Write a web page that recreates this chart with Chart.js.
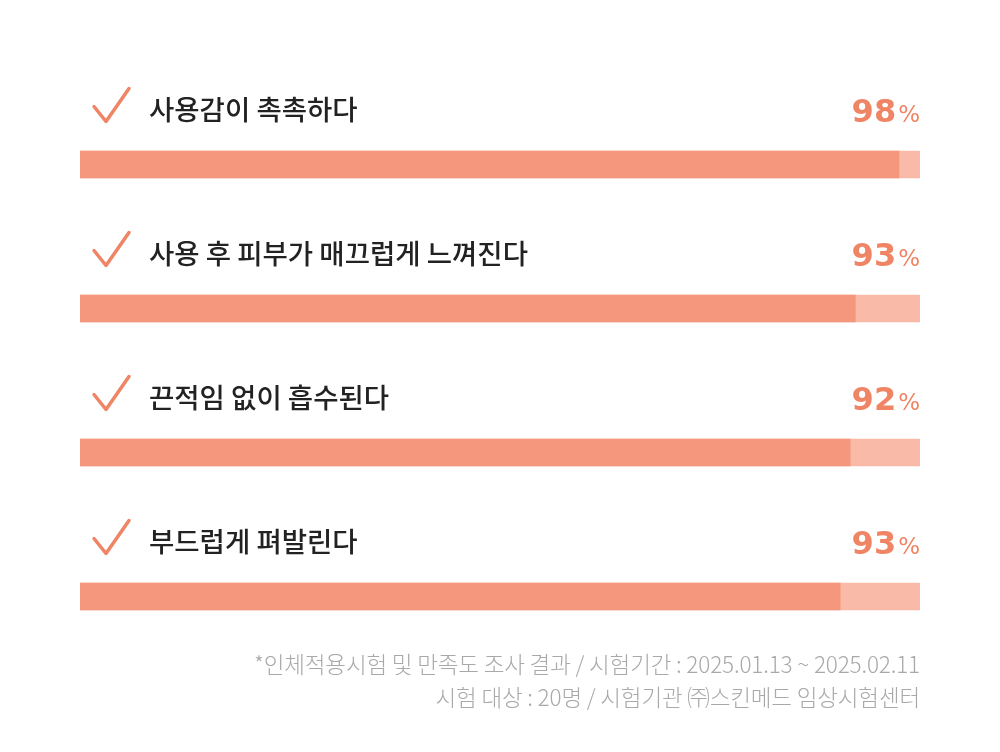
<!DOCTYPE html>
<html>
<head>
<meta charset="utf-8">
<script src="https://cdn.jsdelivr.net/npm/chart.js@4.4.1/dist/chart.umd.min.js"></script>
<style>
  html, body { margin: 0; padding: 0; background: #fff; }
  #wrap { position: relative; width: 1000px; height: 752px; }
  #chart { position: absolute; left: 0; top: 0; }
  #note {
    position: absolute; right: 80px; top: 647px;
    text-align: right; color: #a9a9a9;
    font-family: "Noto Sans CJK KR", "Noto Sans", sans-serif;
    font-weight: 300; font-size: 22.5px; line-height: 33px; letter-spacing: -0.15px;
  }
</style>
</head>
<body>
<div id="wrap">
  <canvas id="chart" width="1000" height="752"></canvas>
  <div id="note">*인체적용시험 및 만족도 조사 결과 / 시험기간 : 2025.01.13 ~ 2025.02.11<br>시험 대상 : 20명 / 시험기관 ㈜스킨메드 임상시험센터</div>
</div>
<script>
// survey items and results
const items = ['사용감이 촉촉하다', '사용 후 피부가 매끄럽게 느껴진다', '끈적임 없이 흡수된다', '부드럽게 펴발린다'];
const percentLabels = [98, 93, 92, 93];
// filled length of each bar as drawn in the picture
const barFill = [97.5, 92.3, 91.7, 90.5];
const trackMax = [100, 100, 100, 100];

const fillColor = '#f4977d';
const trackColor = '#f9bba8';
const accent = '#ef8565';

// draws the check mark, item text and percentage above each bar
const labelPlugin = {
  id: 'labels',
  afterDatasetsDraw(chart) {
    const ctx = chart.ctx;
    const meta = chart.getDatasetMeta(0);
    const area = chart.chartArea;
    meta.data.forEach((bar, i) => {
      const cy = bar.y - 56;
      // check mark
      ctx.save();
      ctx.strokeStyle = accent;
      ctx.lineWidth = 3.5;
      ctx.lineCap = 'round';
      ctx.lineJoin = 'round';
      ctx.beginPath();
      ctx.moveTo(area.left + 14, cy - 2);
      ctx.lineTo(area.left + 26, cy + 13);
      ctx.lineTo(area.left + 49, cy - 20);
      ctx.stroke();
      ctx.restore();

      // item text
      ctx.save();
      ctx.fillStyle = '#222';
      ctx.font = '500 27.5px "Noto Sans CJK KR", sans-serif';
      ctx.textBaseline = 'middle';
      ctx.textAlign = 'left';
      ctx.fillText(items[i], area.left + 69, cy + 1);
      ctx.restore();

      // percentage
      ctx.save();
      ctx.fillStyle = accent;
      ctx.textBaseline = 'alphabetic';
      ctx.textAlign = 'right';
      ctx.font = '400 23px "DejaVu Sans", sans-serif';
      const pw = ctx.measureText('%').width;
      ctx.fillText('%', area.right, cy + 13);
      ctx.font = 'bold 32px "DejaVu Sans", sans-serif';
      ctx.fillText(String(percentLabels[i]), area.right - pw - 2, cy + 13);
      ctx.restore();
    });
  }
};

new Chart(document.getElementById('chart'), {
  type: 'bar',
  data: {
    labels: items,
    datasets: [
      {
        data: barFill,
        backgroundColor: fillColor,
        barThickness: 27,
        order: 0
      },
      {
        data: trackMax,
        backgroundColor: trackColor,
        barThickness: 27,
        order: 1
      }
    ]
  },
  options: {
    indexAxis: 'y',
    responsive: false,
    animation: false,
    grouped: false,
    layout: { padding: { left: 80, right: 80, top: 92.5, bottom: 83.5 } },
    scales: {
      x: { display: false, min: 0, max: 100 },
      y: { display: false }
    },
    plugins: {
      legend: { display: false },
      tooltip: { enabled: false }
    }
  },
  plugins: [labelPlugin]
});
</script>
</body>
</html>
